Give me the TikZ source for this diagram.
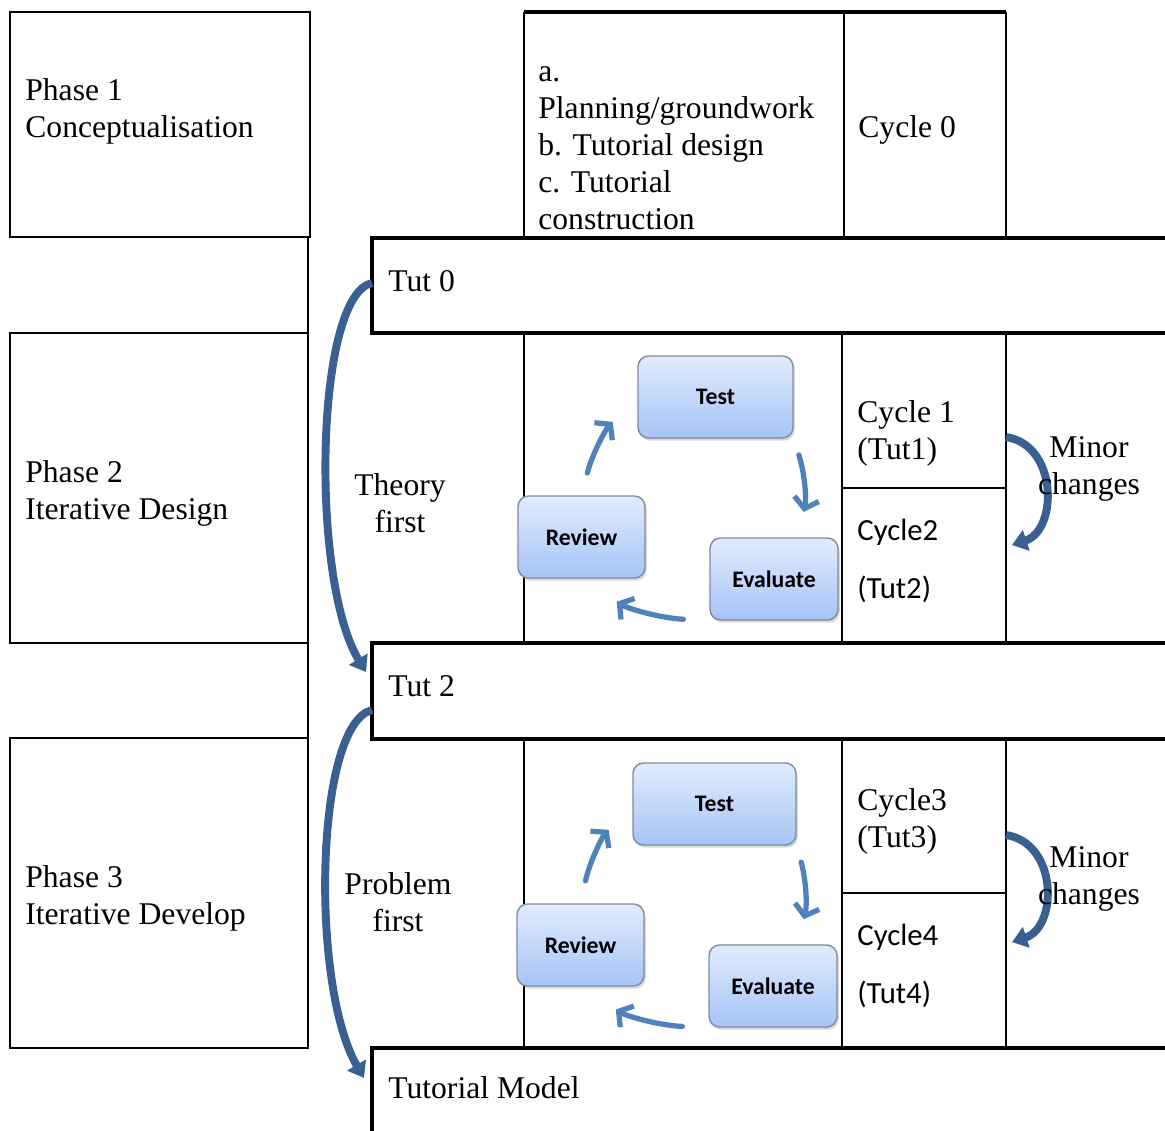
\documentclass[tikz,border=0pt]{standalone}
\usepackage{fontspec}
\setmainfont{Liberation Serif}
\newfontfamily\calfont{Carlito}
\usetikzlibrary{arrows.meta, positioning, shadows}
\definecolor{cycblue}{RGB}{79,129,189}
\definecolor{arcblue}{RGB}{58,95,145}
\definecolor{boxtop}{RGB}{224,236,253}
\definecolor{boxbot}{RGB}{166,196,246}
\definecolor{boxline}{RGB}{128,138,158}

\begin{document}
\begin{tikzpicture}[x=0.02cm, y=-0.02cm,
  rule/.style={line width=1.2pt},
  heavyrule/.style={line width=2.4pt},
  label/.style={anchor=west, inner sep=0pt, align=left, font=\fontsize{18}{21}\selectfont},
  cal/.style={anchor=west, inner sep=0pt, align=left, font=\calfont\fontsize{17.5}{21}\selectfont},
  stepbox/.style={draw=boxline, line width=0.8pt, rounded corners=6pt, top color=boxtop, bottom color=boxbot,
    minimum height=1.64cm, font=\calfont\bfseries\fontsize{13.5}{16}\selectfont,
    drop shadow={opacity=0.3, shadow xshift=1pt, shadow yshift=-1.5pt}},
  cycarrow/.style={cycblue, line width=3pt, line cap=round, -{Straight Barb[length=0.2cm, width=0.5cm]}},
  arcarrow/.style={arcblue, line width=4.5pt, -{Triangle[length=0.3cm, width=0.42cm]}}]
  \useasboundingbox (0,0) rectangle (1165,1131);

  % Phases (left column)
  \draw[rule] (10,12) rectangle (310,237);
  \draw[rule] (308,237) -- (308,333);
  \draw[rule] (10,333) rectangle (308,643);
  \draw[rule] (308,643) -- (308,738);
  \draw[rule] (10,738) rectangle (308,1048);

  % Cycle 0
  \draw[rule] (524,237) -- (524,12);
  \draw[heavyrule] (524,12) -- (1006,12);
  \draw[rule] (1006,12) -- (1006,237);
  \draw[rule] (844,12) -- (844,237);

  % Tutorial rows
  \draw[heavyrule] (1165,238) -- (372,238) -- (372,333) -- (1165,333);
  \draw[heavyrule] (1165,643) -- (372,643) -- (372,739) -- (1165,739);
  \draw[heavyrule] (1165,1048) -- (372,1048) -- (372,1131);

  % Cycle cells
  \foreach \top/\bot/\mid in {333/643/488, 739/1048/893} {
    \draw[rule] (524,\top) -- (524,\bot);
    \draw[rule] (842,\top) -- (842,\bot);
    \draw[rule] (1006,\top) -- (1006,\bot);
    \draw[rule] (842,\mid) -- (1006,\mid);
  }

  % Texts
  \node[label] (p1) at (25,111) {Phase 1\\Conceptualisation};
  \node[label] (p2) at (25,493) {Phase 2\\Iterative Design};
  \node[label] (p3) at (25,898) {Phase 3\\Iterative Develop};
  \node[label] (plan) at (538,148) {a.\\Planning/groundwork\\b. Tutorial design\\c. Tutorial\\construction};
  \node[label] (cyc0) at (858,130) {Cycle 0};
  \node[label] (tut0) at (388,281) {Tut 0};
  \node[label] (tut2) at (388,686) {Tut 2};
  \node[label] (tutm) at (388,1088) {Tutorial Model};
  \node[label, anchor=center, align=center] (theory) at (400,503) {Theory\\first};
  \node[label, anchor=center, align=center] (problem) at (398,902) {Problem\\first};
  \node[label] (cyc1) at (857,433) {Cycle 1\\(Tut1)};
  \node[cal] (cyc2) at (857,561) {Cycle2\\[0.42cm](Tut2)};
  \node[label] (cyc3) at (857,821) {Cycle3\\(Tut3)};
  \node[cal] (cyc4) at (857,966) {Cycle4\\[0.42cm](Tut4)};

  % Test / Evaluate / Review loops
  \node[stepbox, minimum width=3.1cm] (test1) at (715.5,397) {Test};
  \node[stepbox, minimum width=2.54cm] (rev1) at (581.5,537) {Review};
  \node[stepbox, minimum width=2.56cm] (eval1) at (774,579) {Evaluate};
  \node[stepbox, minimum width=3.26cm] (test2) at (714.5,804) {Test};
  \node[stepbox, minimum width=2.54cm] (rev2) at (580.5,945) {Review};
  \node[stepbox, minimum width=2.56cm] (eval2) at (773,986) {Evaluate};

  \foreach \n in {1,2} {
    \draw[cycarrow, shorten <=0.46cm, shorten >=0.7cm] (rev\n.north) to[bend left=15] (test\n.west);
    \draw[cycarrow, shorten <=0.34cm, shorten >=0.52cm] (test\n.south east) to[bend left=15] (eval\n.60);
    \draw[cycarrow, shorten <=0.52cm, shorten >=0.84cm] (eval\n.south west) to[bend left=15] (rev\n.south);
  }

  % Large arcs between tutorials
  \coordinate (t0w) at (372,283);
  \coordinate (t2in) at (366,672);
  \coordinate (t2out) at (372,710);
  \coordinate (tmw) at (364,1078);
  \draw[arcarrow] (t0w) .. controls (315,295) and (310,580) .. (t2in);
  \draw[arcarrow] (t2out) .. controls (315,724) and (310,985) .. (tmw);

  % Minor changes
  \coordinate (c1e) at (1006,437);
  \coordinate (c2e) at (1012,545);
  \coordinate (c3e) at (1006,835);
  \coordinate (c4e) at (1012,942);
  \draw[arcarrow] (c1e) .. controls (1058,445) and (1058,530) .. (c2e);
  \draw[arcarrow] (c3e) .. controls (1058,843) and (1058,927) .. (c4e);
  \node[label, anchor=center, align=center] (minor1) at (1089,469) {Minor\\changes};
  \node[label, anchor=center, align=center] (minor2) at (1089,879) {Minor\\changes};
\end{tikzpicture}
\end{document}
